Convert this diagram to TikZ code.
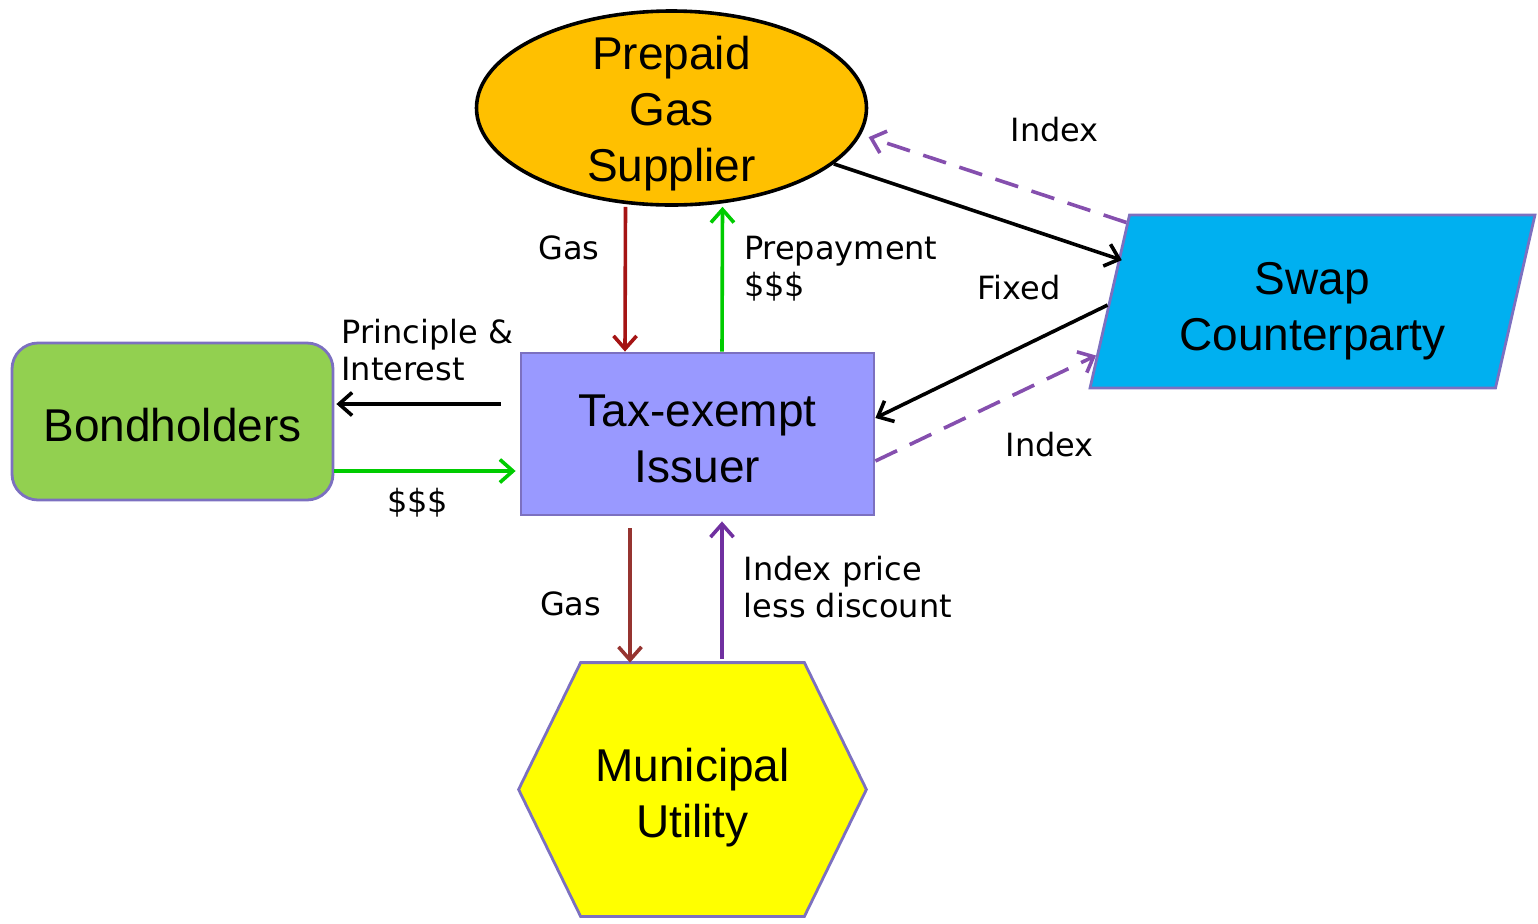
\documentclass[tikz,border=0pt]{standalone}
\usepackage{fontspec}
\setmainfont{Liberation Sans}
\newfontfamily\labelfont{DejaVu Sans}
\usetikzlibrary{shapes.geometric,arrows.meta,backgrounds}

\definecolor{supplierorange}{RGB}{255,192,0}
\definecolor{swapblue}{RGB}{0,176,240}
\definecolor{issuerblue}{RGB}{153,153,255}
\definecolor{bondgreen}{RGB}{146,208,80}
\definecolor{utilyellow}{RGB}{255,255,0}
\definecolor{boxborder}{RGB}{124,112,192}
\definecolor{gasred}{RGB}{165,20,20}
\definecolor{gasbrown}{RGB}{150,52,48}
\definecolor{cashgreen}{RGB}{0,204,0}
\definecolor{indexpurple}{RGB}{112,48,160}

% raises the top of the first line, so the text sits lower in its shape
\newcommand{\topstrut}[1]{\rule{0pt}{#1}}

\tikzset{
  party/.style={font=\fontsize{23}{28}\selectfont, align=center, line width=1.4pt, draw=boxborder},
  flow/.style={line width=1.8pt, -{Straight Barb[length=6.5pt,width=11.5pt]}},
  swapflow/.style={flow, dash pattern=on 12pt off 7pt, color=indexpurple!85},
  lbl/.style={font=\labelfont\fontsize{16}{18.5}\selectfont, inner sep=0pt, align=left, text=black},
}

\begin{document}
\begin{tikzpicture}[x=0.5pt, y=-0.5pt]
  \useasboundingbox (0,0) rectangle (1538,923);
  % the parties
  \node[party, ellipse, draw=black, line width=1.8pt, fill=supplierorange, minimum width=195pt, minimum height=97pt, inner xsep=0pt, inner ysep=-12pt] (supplier) at (671.5,108) {\topstrut{21.8pt}Prepaid\\Gas\\Supplier};
  \node[party, trapezium, trapezium left angle=77, trapezium right angle=103, trapezium stretches, fill=swapblue, minimum width=222.5pt, minimum height=86.5pt] (swap) at (1312.5,301.5) {\topstrut{25.8pt}Swap\\Counterparty};
  \node[party, rectangle, fill=issuerblue, minimum width=176.5pt, minimum height=81pt] (issuer) at (697.5,434) {\topstrut{20.3pt}Tax-exempt\\Issuer};
  \node[party, rounded corners=13pt, fill=bondgreen, minimum width=160.5pt, minimum height=78.5pt] (bond) at (172.5,421.5) {\topstrut{19.8pt}Bondholders};
  \node[party, draw=none, minimum width=172.5pt, minimum height=125.5pt] (utility) at (692.5,789.5) {\topstrut{24.8pt}Municipal\\Utility};
  \begin{pgfonlayer}{background}
    \draw[line width=1.4pt, draw=boxborder, fill=utilyellow] ([xshift=31pt]utility.north west) -- ([xshift=-31pt]utility.north east) -- (utility.east) -- ([xshift=-31pt]utility.south east) -- ([xshift=31pt]utility.south west) -- (utility.west) -- cycle;
  \end{pgfonlayer}
  % gas and money
  \draw[flow, gasred] ([xshift=-23pt]supplier.south) -- ([xshift=-36.25pt]issuer.north) node[lbl, pos=0.28, left=12pt] {Gas};
  \draw[flow, cashgreen] ([xshift=12.25pt]issuer.north) -- ([xshift=25.5pt]supplier.south) node[lbl, pos=0.57, right=10pt] {Prepayment\\\$\$\$};
  \draw[flow] ([yshift=15pt,xshift=-9.5pt]issuer.west) -- ([yshift=8.75pt,xshift=1pt]bond.east) node[lbl, pos=0.98, anchor=west, yshift=27pt] {Principle \&\\Interest};
  \draw[flow, cashgreen] ([yshift=-24.75pt]bond.east) -- ([yshift=-18.5pt,xshift=-2pt]issuer.west) node[lbl, pos=0.46, yshift=-16pt] {\$\$\$};
  \draw[flow, gasbrown] ([xshift=-33.75pt,yshift=-6pt]issuer.south) -- ([xshift=-31.25pt]utility.north) node[lbl, pos=0.56, left=13.5pt] {Gas};
  \draw[flow, indexpurple] ([xshift=14.75pt,yshift=2pt]utility.north) -- ([xshift=12.25pt,yshift=-2.5pt]issuer.south) node[lbl, pos=0.52, right=10pt] {Index price\\less discount};
  % the swap
  \draw[flow] (supplier.-19) -- ([xshift=2pt]swap.168);
  \draw[swapflow, shorten >=4pt] (swap.157) -- (supplier.-8) node[lbl, pos=0.27, yshift=34.5pt] {Index};
  \draw[flow] (swap.181) -- ([yshift=8pt]issuer.east) node[lbl, pos=0.38, yshift=30pt] {Fixed};
  \draw[swapflow] ([yshift=-13.5pt]issuer.east) -- (swap.194) node[lbl, pos=0.79, yshift=-33.7pt] {Index};
\end{tikzpicture}
\end{document}
